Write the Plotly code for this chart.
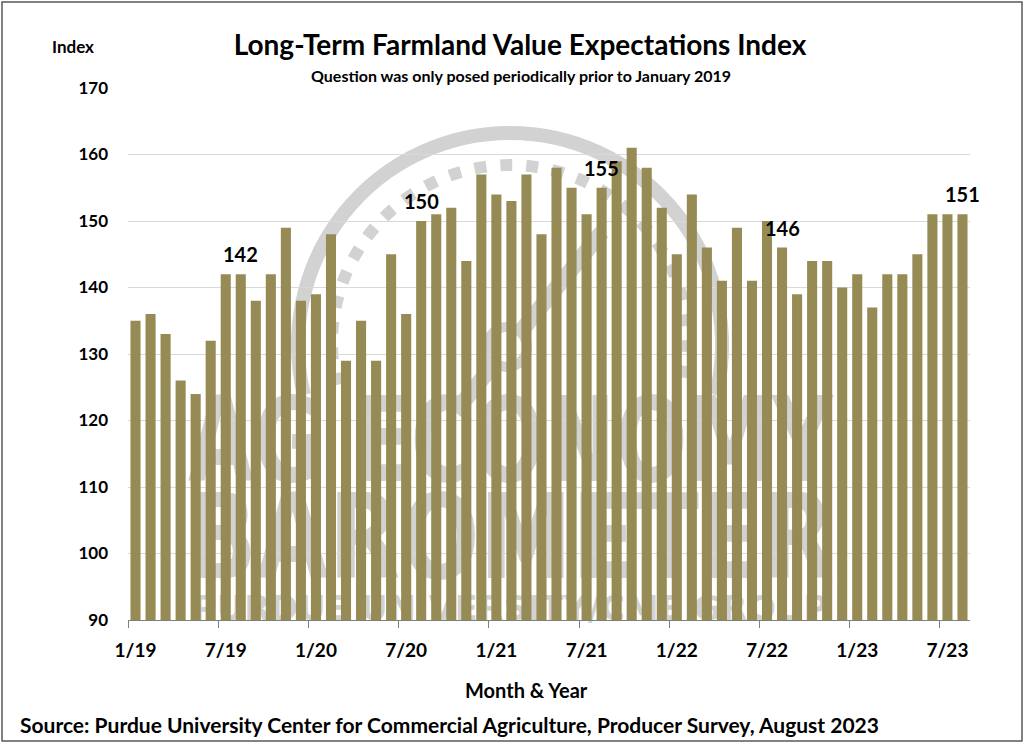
import base64
import plotly.graph_objects as go

# month labels (category axis)
months = [
    "1/19", "2/19", "3/19", "4/19", "5/19", "6/19", "7/19", "8/19", "9/19", "10/19", "11/19", "12/19",
    "1/20", "2/20", "3/20", "4/20", "5/20", "6/20", "7/20", "8/20", "9/20", "10/20", "11/20", "12/20",
    "1/21", "2/21", "3/21", "4/21", "5/21", "6/21", "7/21", "8/21", "9/21", "10/21", "11/21", "12/21",
    "1/22", "2/22", "3/22", "4/22", "5/22", "6/22", "7/22", "8/22", "9/22", "10/22", "11/22", "12/22",
    "1/23", "2/23", "3/23", "4/23", "5/23", "6/23", "7/23", "8/23",
]
# long-term farmland value expectations index
index_values = [
    135, 136, 133, 126, 124, 132, 142, 142, 138, 142, 149, 138,
    139, 148, 129, 135, 129, 145, 136, 150, 151, 152, 144, 157,
    154, 153, 157, 148, 158, 155, 151, 155, 159, 161, 158, 152,
    145, 154, 146, 141, 149, 141, 150, 146, 139, 144, 144, 140,
    142, 137, 142, 142, 145, 151, 151, 151,
]
# bars that get a value label (August of each year)
label_months = ["8/19", "8/20", "8/21", "8/22", "8/23"]

W, H = 1024, 744
L, R, T, B = 128, 54, 88, 124
pw = W - L - R
ph = H - T - B


def px(x):
    # page pixel -> paper x
    return (x - L) / pw


def py(y):
    # page pixel -> paper y
    return (H - B - y) / ph


font = "Lato, 'Open Sans', sans-serif"
bar_color = "#968B54"
wm = "#D2D2D2"

# faded background logo (watermark), drawn as an image behind the plot
svg = f"""<svg xmlns="http://www.w3.org/2000/svg" width="{W}" height="{H}" viewBox="0 0 {W} {H}">
<g fill="none" stroke="{wm}">
<path d="M 304 395 A 212 212 0 1 1 716 395" stroke-width="14"/>
<path d="M 337 385 A 178 178 0 1 1 683 385" stroke-width="12" stroke-dasharray="12 14"/>
<line x1="455" y1="412" x2="602" y2="232" stroke-width="16"/>
<circle cx="507" cy="347" r="20" stroke-width="10" fill="white"/>
</g>
<g fill="{wm}" font-family="DejaVu Sans" font-weight="bold">
<text x="188" y="481" font-size="118" textLength="645" lengthAdjust="spacingAndGlyphs">AG ECONOMY</text>
<text x="186" y="578" font-size="118" textLength="648" lengthAdjust="spacingAndGlyphs">BAROMETER</text>
<text x="192" y="620" font-size="34" textLength="636" lengthAdjust="spacingAndGlyphs">PURDUE UNIVERSITY/CME GROUP</text>
</g></svg>"""
svg_uri = "data:image/svg+xml;base64," + base64.b64encode(svg.encode()).decode()

fig = go.Figure(
    go.Bar(
        x=months,
        y=index_values,
        marker_color=bar_color,
        marker_line_width=0,
        hovertemplate="%{x}: %{y}<extra></extra>",
    )
)

# value labels above selected bars
for m in label_months:
    v = index_values[months.index(m)]
    fig.add_annotation(
        x=m, y=v, text="<b>%d</b>" % v,
        showarrow=False, yanchor="bottom", yshift=6,
        font=dict(family=font, size=20, color="#000000"),
    )


def note(text, x, y, size, xanchor="center"):
    fig.add_annotation(
        x=px(x), y=py(y), xref="paper", yref="paper", showarrow=False,
        xanchor=xanchor, yanchor="middle", text=text,
        font=dict(family=font, size=size, color="#000000"),
    )


note("<b>Question was only posed periodically prior to January 2019</b>", 521, 75, 16)
note("<b>Index</b>", 73, 47, 17)
note("<b>Month & Year</b>", 526, 690, 20)
note("<b>Source: Purdue University Center for Commercial Agriculture, Producer Survey, August 2023</b>",
     18, 724, 21, xanchor="left")

# outer border of the graphic
fig.add_shape(
    type="rect", xref="paper", yref="paper",
    x0=px(2), x1=px(1022), y0=py(741), y1=py(2),
    line=dict(color="#595959", width=1.5),
)

fig.add_layout_image(
    source=svg_uri, xref="paper", yref="paper",
    x=px(0), y=py(0), sizex=W / pw, sizey=H / ph,
    xanchor="left", yanchor="top", sizing="stretch", layer="below",
)

fig.update_layout(
    width=W, height=H,
    margin=dict(l=L, r=R, t=T, b=B, autoexpand=False),
    paper_bgcolor="white", plot_bgcolor="white",
    bargap=0.33,
    showlegend=False,
    font=dict(family=font, color="#000000"),
    title=dict(
        text="<b>Long-Term Farmland Value Expectations Index</b>",
        x=520 / W, y=1 - 45 / H, xanchor="center", yanchor="middle",
        font=dict(family=font, size=28, color="#000000"),
    ),
    xaxis=dict(
        type="category", range=[-0.5, len(months) - 0.5],
        tickmode="linear", tick0=0, dtick=6, tickson="boundaries",
        ticks="outside", ticklen=7, tickcolor="#7F7F7F",
        showline=True, linecolor="#7F7F7F", linewidth=1,
        showgrid=False, tickangle=0,
        tickfont=dict(family=font, size=19, color="#000000", weight="bold"),
        ticklabelstandoff=13,
    ),
    yaxis=dict(
        range=[90, 170], tick0=90, dtick=10,
        showgrid=True, gridcolor="#D9D9D9", gridwidth=1,
        zeroline=False, showline=False, ticks="",
        tickfont=dict(family=font, size=17, color="#000000", weight="bold"),
        ticklabelstandoff=19,
    ),
)

fig.write_html("out.html", config={"displayModeBar": False},
               post_script="document.body.style.margin='0';")
